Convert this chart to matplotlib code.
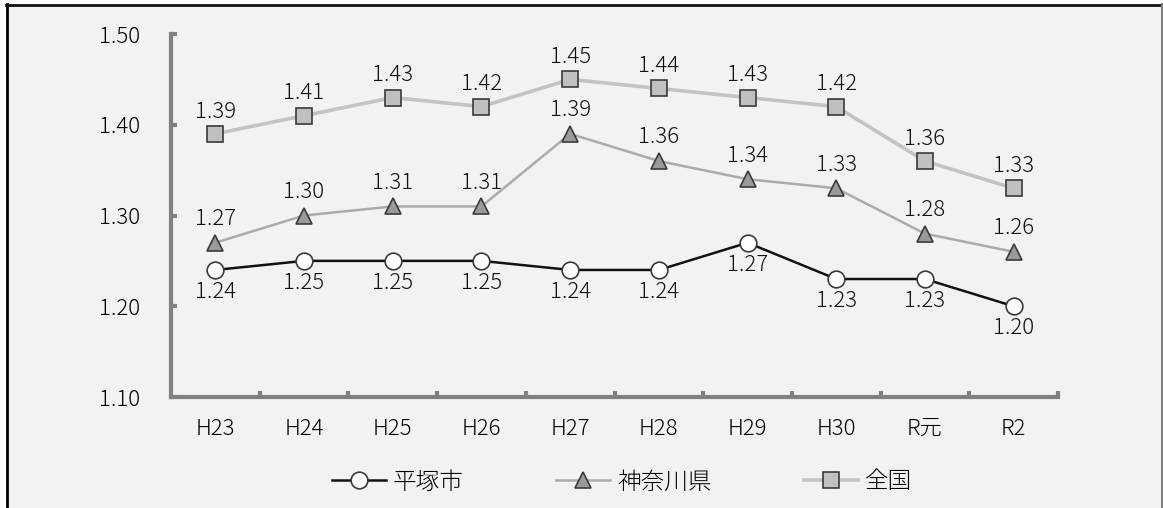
import matplotlib.pyplot as plt
from matplotlib.lines import Line2D
from matplotlib.patches import Rectangle
from matplotlib.ticker import FixedLocator

plt.rcParams['font.family'] = ['Noto Sans CJK JP', 'DejaVu Sans']
plt.rcParams['font.weight'] = 'light'

# data
years = ["H23", "H24", "H25", "H26", "H27", "H28", "H29", "H30", "R元", "R2"]
hiratsuka = [1.24, 1.25, 1.25, 1.25, 1.24, 1.24, 1.27, 1.23, 1.23, 1.20]
kanagawa = [1.27, 1.30, 1.31, 1.31, 1.39, 1.36, 1.34, 1.33, 1.28, 1.26]
zenkoku = [1.39, 1.41, 1.43, 1.42, 1.45, 1.44, 1.43, 1.42, 1.36, 1.33]
y_ticks = [1.10, 1.20, 1.30, 1.40, 1.50]

W, H = 1163, 508
fs = 16
fig = plt.figure(figsize=(W / 100, H / 100), dpi=100, facecolor="white")

# background panel with frame
fig.patches.append(Rectangle((7 / W, 0), 1155 / W, 1 - 5 / H, transform=fig.transFigure,
                             facecolor="#f2f2f2", edgecolor="none", zorder=-10))
fig.lines.append(Line2D([7 / W, 7 / W], [0, 1 - 4 / H], transform=fig.transFigure,
                        color="black", lw=2, zorder=-5))
fig.lines.append(Line2D([6 / W, 1162 / W], [1 - 4.5 / H, 1 - 4.5 / H], transform=fig.transFigure,
                        color="#111111", lw=2, zorder=-5))
fig.lines.append(Line2D([1162 / W, 1162 / W], [0, 1 - 4 / H], transform=fig.transFigure,
                        color="#808080", lw=1.5, zorder=-5))

ax = fig.add_axes([171 / W, 1 - 397 / H, (1058 - 171) / W, (397 - 34) / H])
ax.set_facecolor("none")

x = list(range(len(years)))
ax.plot(x, zenkoku, color="#c3c3c3", lw=2.6, marker="s", ms=12,
        mfc="#c0c0c0", mec="#3a3a3a", mew=1.2, label="全国", zorder=3)
ax.plot(x, kanagawa, color="#ababab", lw=1.8, marker="^", ms=12,
        mfc="#9a9a9a", mec="#3a3a3a", mew=1.2, label="神奈川県", zorder=4)
ax.plot(x, hiratsuka, color="#111111", lw=1.8, marker="o", ms=12,
        mfc="white", mec="#3a3a3a", mew=1.2, label="平塚市", zorder=5)

for xi, v in zip(x, zenkoku):
    ax.annotate(f"{v:.2f}", (xi, v), xytext=(0, 16), textcoords="offset points",
                ha="center", va="center", fontsize=fs, color="#111111")
for xi, v in zip(x, kanagawa):
    ax.annotate(f"{v:.2f}", (xi, v), xytext=(0, 17), textcoords="offset points",
                ha="center", va="center", fontsize=fs, color="#111111")
for xi, v in zip(x, hiratsuka):
    ax.annotate(f"{v:.2f}", (xi, v), xytext=(0, -16), textcoords="offset points",
                ha="center", va="center", fontsize=fs, color="#111111")

ax.set_xlim(-0.5, len(years) - 0.5)
ax.set_ylim(1.10, 1.50)
ax.set_yticks(y_ticks)
ax.set_yticklabels([f"{t:.2f}" for t in y_ticks])
ax.set_xticks(x)
ax.set_xticklabels(years)
ax.xaxis.set_minor_locator(FixedLocator([i + 0.5 for i in range(len(years))]))

for side in ["top", "right"]:
    ax.spines[side].set_visible(False)
for side in ["left", "bottom"]:
    ax.spines[side].set_color("#808080")
    ax.spines[side].set_linewidth(3)
    ax.spines[side].set_capstyle("projecting")

ax.tick_params(axis="x", which="major", length=0, pad=15, labelsize=fs)
ax.tick_params(axis="x", which="minor", direction="in", length=4, width=3, color="#808080")
ax.tick_params(axis="y", direction="in", length=4, width=3, color="#808080",
               pad=22, labelsize=fs)

handles, labels = ax.get_legend_handles_labels()
fig.legend(handles[::-1], labels[::-1], loc="center", ncol=3,
           bbox_to_anchor=(622 / W, 1 - 482 / H), frameon=False,
           fontsize=17, handlelength=2.3, handletextpad=0.3, columnspacing=3.9)

fig.savefig("out.png", dpi=100, facecolor=fig.get_facecolor())
